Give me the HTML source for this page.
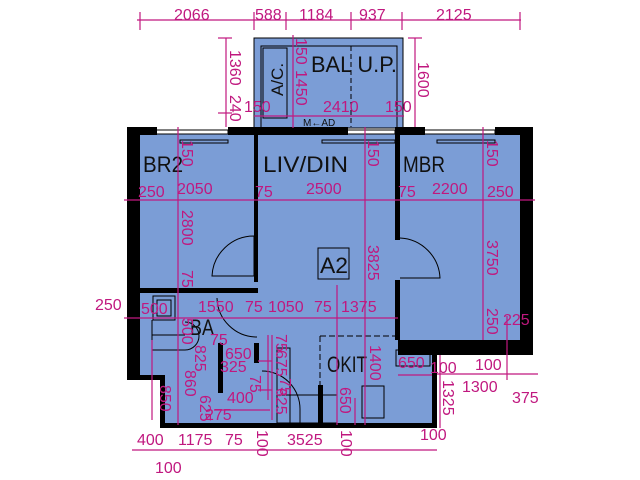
<!DOCTYPE html>
<html><head><meta charset="utf-8"><style>
html,body{margin:0;padding:0;background:#fff;width:640px;height:480px;overflow:hidden}
svg{display:block}
.d{stroke:#c0187f;stroke-width:1.2;fill:none}
.t{fill:#c0187f;font-family:"Liberation Sans",sans-serif;font-size:16px}
.l{fill:#111;font-family:"Liberation Sans",sans-serif;font-size:22px}
.w{fill:#000}
.ln{stroke:#000;stroke-width:1;fill:none}
</style></head><body>
<svg width="640" height="480" viewBox="0 0 640 480" xmlns="http://www.w3.org/2000/svg">
<g fill="#7b9dd6">
<rect x="254" y="38" width="149" height="90"/>
<rect x="140" y="134" width="380" height="206"/>
<rect x="140" y="340" width="297" height="40"/>
<rect x="163" y="380" width="274" height="45"/>
</g>
<rect x="254" y="38" width="149" height="90" class="ln"/>
<rect x="261" y="46" width="136" height="82" class="ln"/>
<rect x="263" y="48" width="24" height="70" class="ln"/>
<line x1="351" y1="46" x2="351" y2="127" stroke="#000" stroke-dasharray="5,3"/>
<g class="w">
<rect x="127" y="127" width="30" height="8"/>
<rect x="228" y="127" width="120" height="8"/>
<rect x="395" y="127" width="30" height="8"/>
<rect x="495" y="127" width="38" height="8"/>
<rect x="127" y="127" width="13" height="253"/>
<rect x="520" y="127" width="13" height="228"/>
<rect x="254" y="134" width="4" height="148"/>
<rect x="395" y="134" width="5" height="106"/>
<rect x="395" y="280" width="5" height="60"/>
<rect x="140" y="288" width="118" height="5"/>
<rect x="398" y="340" width="135" height="15"/>
<rect x="432" y="340" width="5" height="88"/>
<rect x="163" y="423" width="274" height="5"/>
<rect x="127" y="375" width="36" height="5"/>
<rect x="160" y="375" width="5" height="53"/>
<rect x="218" y="343" width="5" height="50"/>
<rect x="254" y="343" width="5" height="20"/>
<rect x="318" y="385" width="5" height="40"/>
</g>
<g class="ln">
<rect x="152" y="130" width="76" height="4"/><rect x="180" y="140" width="48" height="3"/>
<rect x="295" y="130" width="100" height="4"/><rect x="322" y="140" width="73" height="3"/>
<rect x="415" y="130" width="80" height="4"/><rect x="437" y="140" width="58" height="3"/>
<path d="M212 276 A42 42 0 0 1 254 236 L254 276 Z"/>
<path d="M400 238 A42 42 0 0 1 440 278 L400 278"/>
<path d="M217 298 A40 40 0 0 0 257 337"/>
<path d="M262 371 A38 38 0 0 1 300 410 L300 423"/>
<rect x="318" y="248" width="31" height="31"/>
<rect x="153" y="296" width="22" height="24"/><rect x="157" y="300" width="14" height="16"/>
<path d="M152 320 L152 372 M152 335 L185 335 M152 350 L185 350 M185 322 A12 12 0 0 1 185 350"/>
<rect x="277" y="348" width="13" height="75"/>
<rect x="277" y="395" width="60" height="28"/>
<path d="M320 336 L395 336 M320 336 L320 385" stroke-dasharray="6,3"/>
<rect x="396" y="350" width="34" height="16"/>
<rect x="362" y="386" width="22" height="32"/>
</g>
<text class="l" x="143" y="172" textLength="40" lengthAdjust="spacingAndGlyphs">BR2</text>
<text class="l" x="263" y="172" textLength="85" lengthAdjust="spacingAndGlyphs">LIV/DIN</text>
<text class="l" x="403" y="172" textLength="42" lengthAdjust="spacingAndGlyphs">MBR</text>
<text class="l" x="311" y="72" textLength="86" lengthAdjust="spacingAndGlyphs">BAL U.P.</text>
<text class="l" transform="translate(283,96) rotate(-90)" style="font-size:17px">A/C.</text>
<text class="l" x="320" y="273" textLength="28" lengthAdjust="spacingAndGlyphs">A2</text>
<text class="l" x="190" y="335" textLength="24" lengthAdjust="spacingAndGlyphs">BA</text>
<text class="l" x="327" y="372" textLength="40" lengthAdjust="spacingAndGlyphs">OKIT</text>
<text class="l" x="303" y="126" style="font-size:10px">M←AD</text>
<g class="d">
<line x1="137" y1="20" x2="521" y2="20"/>
<line x1="140" y1="12" x2="140" y2="30"/><line x1="254" y1="12" x2="254" y2="30"/><line x1="286" y1="12" x2="286" y2="30"/><line x1="351" y1="12" x2="351" y2="30"/><line x1="402" y1="12" x2="402" y2="30"/><line x1="520" y1="12" x2="520" y2="30"/>
<line x1="226" y1="38" x2="226" y2="127"/><line x1="218" y1="38" x2="232" y2="38"/><line x1="218" y1="113" x2="232" y2="113"/>
<line x1="415" y1="38" x2="415" y2="127"/><line x1="408" y1="38" x2="422" y2="38"/>
<line x1="293" y1="35" x2="293" y2="128"/>
<line x1="254" y1="116" x2="404" y2="116"/>
<line x1="124" y1="200" x2="535" y2="200"/>
<line x1="124" y1="318" x2="398" y2="318"/>
<line x1="178" y1="127" x2="178" y2="425"/>
<line x1="365" y1="127" x2="365" y2="425"/>
<line x1="483" y1="127" x2="483" y2="340"/>
<line x1="437" y1="374" x2="538" y2="374"/>
<line x1="440" y1="355" x2="440" y2="428"/>
<line x1="132" y1="450" x2="437" y2="450"/>
<line x1="152" y1="340" x2="152" y2="420"/>
<line x1="268" y1="335" x2="268" y2="400"/>
<line x1="272" y1="335" x2="272" y2="420"/>
<line x1="272" y1="361" x2="258" y2="361"/>
<line x1="272" y1="390" x2="258" y2="390"/>
<line x1="214" y1="410" x2="270" y2="410"/>
<line x1="337" y1="285" x2="337" y2="425"/>
<line x1="355" y1="398" x2="355" y2="425"/>
<line x1="398" y1="375" x2="432" y2="375"/>
<line x1="507" y1="316" x2="507" y2="380"/>
</g>
<g class="t">
<text x="174" y="20">2066</text><text x="255" y="20">588</text><text x="299" y="20">1184</text><text x="359" y="20">937</text><text x="436" y="20">2125</text>
<text transform="translate(230,50) rotate(90)">1360</text>
<text transform="translate(230,95) rotate(90)">240</text>
<text transform="translate(418,62) rotate(90)">1600</text>
<text transform="translate(296,38) rotate(90)">150</text>
<text transform="translate(296,70) rotate(90)">1450</text>
<text x="244" y="112">150</text><text x="323" y="112">2410</text><text x="385" y="112">150</text>
<text transform="translate(182,140) rotate(90)">150</text>
<text transform="translate(368,140) rotate(90)">150</text>
<text transform="translate(487,140) rotate(90)">150</text>
<text x="138" y="197">250</text><text x="177" y="194">2050</text><text x="255" y="197">75</text><text x="306" y="194">2500</text><text x="398" y="197">75</text><text x="432" y="194">2200</text><text x="487" y="197">250</text>
<text transform="translate(182,210) rotate(90)">2800</text>
<text transform="translate(368,245) rotate(90)">3825</text>
<text transform="translate(487,240) rotate(90)">3750</text>
<text transform="translate(182,270) rotate(90)">75</text>
<text x="95" y="310">250</text><text x="141" y="314">500</text><text x="198" y="312">1550</text><text x="245" y="312">75</text><text x="268" y="312">1050</text><text x="314" y="312">75</text><text x="341" y="312">1375</text>
<text transform="translate(487,308) rotate(90)">250</text><text x="503" y="325">225</text>
<text transform="translate(182,318) rotate(90)">500</text>
<text x="210" y="345">75</text>
<text x="225" y="359">650</text><text x="220" y="372">325</text><text x="227" y="403">400</text>
<text transform="translate(195,345) rotate(90)">825</text>
<text transform="translate(185,370) rotate(90)">860</text>
<text transform="translate(200,395) rotate(90)">625</text>
<text x="205" y="420">275</text>
<text transform="translate(276,334) rotate(90)">75</text>
<text transform="translate(276,350) rotate(90)">675</text>
<text transform="translate(280,378) rotate(90)">75</text>
<text transform="translate(276,388) rotate(90)">625</text>
<text transform="translate(250,375) rotate(90)">75</text>
<text transform="translate(370,345) rotate(90)">1400</text>
<text transform="translate(340,387) rotate(90)">650</text>
<text x="398" y="368">650</text>
<text x="430" y="373">100</text><text x="475" y="370">100</text><text x="462" y="392">1300</text><text x="512" y="403">375</text>
<text transform="translate(443,380) rotate(90)">1325</text>
<text transform="translate(160,385) rotate(90)">850</text>
<text x="137" y="445">400</text><text x="178" y="445">1175</text><text x="225" y="445">75</text><text x="287" y="445">3525</text><text x="420" y="440">100</text>
<text transform="translate(257,430) rotate(90)">100</text>
<text transform="translate(341,430) rotate(90)">100</text>
<text x="155" y="473">100</text>
</g>
</svg>
</body></html>
